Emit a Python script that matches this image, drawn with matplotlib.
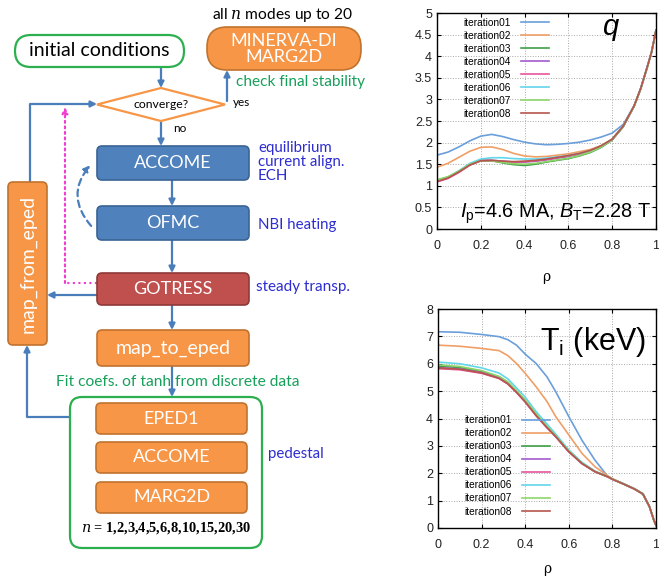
import matplotlib

matplotlib.use("Agg")
import matplotlib.pyplot as plt
import numpy as np
from matplotlib.patches import FancyBboxPatch, Polygon, FancyArrowPatch

plt.rcParams["font.family"] = ["Liberation Sans", "DejaVu Sans"]
plt.rcParams["mathtext.fontset"] = "custom"
plt.rcParams["mathtext.rm"] = "Liberation Sans"
plt.rcParams["mathtext.it"] = "Liberation Sans:italic"

# ---- data ----
iterations = ["iteration01", "iteration02", "iteration03", "iteration04",
              "iteration05", "iteration06", "iteration07", "iteration08"]
iter_colors = ["#6a9fdc", "#ef9f66", "#3f9e4a", "#a35bd0",
               "#e8559c", "#62d6ea", "#8fd46a", "#b5564c"]

rho_q = [0.0, 0.05, 0.1, 0.15, 0.2, 0.25, 0.3, 0.35, 0.4, 0.45, 0.5, 0.55,
         0.6, 0.65, 0.7, 0.75, 0.8, 0.85, 0.9, 0.93, 0.96, 0.98, 1.0]
q_profiles = [
    [1.71, 1.78, 1.90, 2.04, 2.15, 2.19, 2.14, 2.07, 2.01, 1.97, 1.95, 1.96,
     1.98, 2.01, 2.06, 2.13, 2.22, 2.42, 2.85, 3.25, 3.75, 4.10, 4.60],
    [1.43, 1.52, 1.66, 1.80, 1.89, 1.90, 1.84, 1.75, 1.69, 1.67, 1.68, 1.71,
     1.74, 1.79, 1.84, 1.93, 2.08, 2.38, 2.85, 3.25, 3.75, 4.10, 4.60],
    [1.13, 1.20, 1.33, 1.49, 1.58, 1.58, 1.53, 1.49, 1.47, 1.50, 1.55, 1.59,
     1.63, 1.69, 1.77, 1.89, 2.06, 2.36, 2.84, 3.24, 3.74, 4.10, 4.60],
    [1.11, 1.19, 1.33, 1.49, 1.59, 1.59, 1.57, 1.55, 1.55, 1.57, 1.60, 1.64,
     1.68, 1.73, 1.80, 1.91, 2.07, 2.37, 2.85, 3.25, 3.75, 4.10, 4.60],
    [1.09, 1.17, 1.31, 1.48, 1.58, 1.58, 1.56, 1.55, 1.56, 1.58, 1.61, 1.65,
     1.69, 1.74, 1.81, 1.92, 2.08, 2.38, 2.85, 3.25, 3.75, 4.10, 4.60],
    [1.12, 1.20, 1.35, 1.52, 1.62, 1.65, 1.65, 1.63, 1.62, 1.62, 1.64, 1.67,
     1.70, 1.75, 1.81, 1.92, 2.08, 2.38, 2.85, 3.25, 3.75, 4.10, 4.60],
    [1.14, 1.21, 1.34, 1.50, 1.58, 1.58, 1.54, 1.51, 1.50, 1.52, 1.56, 1.60,
     1.64, 1.70, 1.78, 1.90, 2.07, 2.37, 2.84, 3.24, 3.74, 4.10, 4.60],
    [1.10, 1.18, 1.32, 1.48, 1.58, 1.59, 1.57, 1.56, 1.57, 1.59, 1.62, 1.66,
     1.70, 1.75, 1.82, 1.93, 2.08, 2.38, 2.85, 3.25, 3.75, 4.10, 4.60],
]

rho_ti = [0.0, 0.1, 0.2, 0.28, 0.32, 0.36, 0.4, 0.45, 0.5, 0.54, 0.6, 0.66,
          0.72, 0.78, 0.8, 0.85, 0.9, 0.94, 0.97, 0.99, 1.0]
ti_profiles = [
    [7.17, 7.15, 7.07, 6.99, 6.88, 6.68, 6.35, 6.01, 5.52, 4.98, 4.07, 3.21,
     2.48, 1.87, 1.78, 1.62, 1.44, 1.25, 0.78, 0.29, 0.10],
    [6.68, 6.64, 6.56, 6.48, 6.30, 6.01, 5.65, 5.16, 4.62, 4.07, 3.40, 2.73,
     2.24, 1.90, 1.80, 1.62, 1.44, 1.25, 0.78, 0.29, 0.10],
    [5.92, 5.86, 5.72, 5.52, 5.32, 5.00, 4.65, 4.15, 3.70, 3.36, 2.80, 2.37,
     2.06, 1.87, 1.79, 1.61, 1.43, 1.24, 0.78, 0.29, 0.10],
    [5.86, 5.81, 5.68, 5.48, 5.28, 4.97, 4.62, 4.12, 3.67, 3.34, 2.79, 2.36,
     2.06, 1.87, 1.78, 1.61, 1.43, 1.24, 0.78, 0.29, 0.10],
    [5.82, 5.78, 5.65, 5.46, 5.26, 4.95, 4.60, 4.10, 3.66, 3.33, 2.78, 2.35,
     2.05, 1.86, 1.78, 1.61, 1.43, 1.24, 0.78, 0.29, 0.10],
    [6.06, 6.00, 5.85, 5.66, 5.45, 5.12, 4.78, 4.25, 3.80, 3.43, 2.85, 2.40,
     2.08, 1.88, 1.79, 1.62, 1.44, 1.25, 0.78, 0.29, 0.10],
    [5.96, 5.90, 5.75, 5.54, 5.34, 5.02, 4.67, 4.17, 3.71, 3.37, 2.81, 2.37,
     2.06, 1.87, 1.79, 1.61, 1.43, 1.24, 0.78, 0.29, 0.10],
    [5.85, 5.80, 5.67, 5.47, 5.27, 4.96, 4.61, 4.11, 3.67, 3.34, 2.79, 2.36,
     2.06, 1.87, 1.78, 1.61, 1.43, 1.24, 0.78, 0.29, 0.10],
]

x_ticks = [0, 0.2, 0.4, 0.6, 0.8, 1.0]
x_tick_labels = ["0", "0.2", "0.4", "0.6", "0.8", "1"]
q_ticks = [0, 0.5, 1, 1.5, 2, 2.5, 3, 3.5, 4, 4.5, 5]
ti_ticks = [0, 1, 2, 3, 4, 5, 6, 7, 8]

# ---- colours for the flowchart ----
ORANGE, ORANGE_E = "#f79646", "#c0732f"
BLUE, BLUE_E = "#4f81bd", "#3a6494"
RED, RED_E = "#c0504d", "#8e3a38"
GREEN_E = "#2cb04f"
ARROW = "#4a7ebb"
TXT_BLUE = "#2c2cd2"
TXT_GREEN = "#16a05a"
FLOW_FONT = ["Lato", "DejaVu Sans"]

W, H = 659, 576
fig = plt.figure(figsize=(W / 100, H / 100), dpi=100)

# flowchart drawn in pixel units on a full-figure axes
fx = fig.add_axes([0, 0, 1, 1])
fx.set_xlim(0, W)
fx.set_ylim(H, 0)
fx.axis("off")


def box(x0, y0, x1, y1, fc, ec, r=5, lw=1.2, text=None, size=13, color="white", rot=0):
    p = FancyBboxPatch((x0, y0), x1 - x0, y1 - y0,
                       boxstyle=f"round,pad=0,rounding_size={r}",
                       fc=fc, ec=ec, lw=lw, zorder=2)
    fx.add_patch(p)
    if text:
        fx.text((x0 + x1) / 2, (y0 + y1) / 2, text, ha="center", va="center",
                color=color, fontsize=size, family=FLOW_FONT, rotation=rot,
                linespacing=1.0, zorder=3)


def arrow(path, color=ARROW, ls="-", lw=1.6):
    xs, ys = zip(*path)
    if len(path) > 2:
        fx.plot(xs[:-1], ys[:-1], color=color, lw=lw, ls=ls, zorder=1,
                solid_capstyle="butt")
    fx.annotate("", xy=path[-1], xytext=path[-2],
                arrowprops=dict(arrowstyle="-|>", color=color, lw=lw, ls=ls,
                                shrinkA=0, shrinkB=0, mutation_scale=9),
                zorder=1)


box(15, 35, 184, 67, "white", GREEN_E, r=16, lw=1.6,
    text="initial conditions", size=14, color="black")
box(207, 27, 361, 70, ORANGE, ORANGE_E, r=20, text="MINERVA-DI\nMARG2D", size=13)
fx.add_patch(Polygon([(97, 104.5), (161, 88), (225, 104.5), (161, 121)],
                     closed=True, fc="white", ec=ORANGE, lw=1.6, zorder=2))
fx.text(161, 105, "converge?", ha="center", va="center", fontsize=8.8,
        family=FLOW_FONT, zorder=3)
box(97, 146, 249, 180, BLUE, BLUE_E, text="ACCOME")
box(97, 206, 249, 240, BLUE, BLUE_E, text="OFMC")
box(97, 273, 249, 305, RED, RED_E, text="GOTRESS")
box(97, 330, 249, 366, ORANGE, ORANGE_E, text="map_to_eped", size=14)
box(8, 182, 47, 345, ORANGE, ORANGE_E, text="map_from_eped", size=14, rot=90)
box(70, 397, 262, 548, "white", GREEN_E, r=12, lw=1.6)
box(96, 403, 247, 434, ORANGE, ORANGE_E, text="EPED1")
box(96, 442, 247, 473, ORANGE, ORANGE_E, text="ACCOME")
box(96, 482, 247, 513, ORANGE, ORANGE_E, text="MARG2D")

arrow([(161, 67), (161, 88)])
arrow([(227, 101), (227, 70)])
arrow([(161, 121), (161, 146)])
arrow([(172, 180), (172, 206)])
arrow([(172, 240), (172, 273)])
arrow([(172, 305), (172, 330)])
arrow([(172, 366), (172, 397)])
arrow([(97, 295), (47, 295)])
arrow([(70, 417), (27, 417), (27, 345)])
arrow([(30, 182), (30, 104), (97, 104)])
arrow([(97, 283), (65, 283), (65, 107)], color="#f03cd0", ls=":", lw=1.5)
fx.add_patch(FancyArrowPatch((93, 228), (92, 163), connectionstyle="arc3,rad=-0.45",
                             arrowstyle="-|>", mutation_scale=9, color=ARROW,
                             lw=1.6, ls=(0, (3, 2)), zorder=1))

fx.text(283, 15, r"all $n$ modes up to 20", ha="center", va="center", fontsize=11.2,
        family=FLOW_FONT, math_fontfamily="dejavuserif")
fx.text(236, 82, "check final stability", ha="left", va="center", fontsize=11.1,
        color=TXT_GREEN, family=FLOW_FONT)
fx.text(233, 102, "yes", ha="left", va="center", fontsize=8.5, family=FLOW_FONT)
fx.text(173, 129, "no", ha="left", va="center", fontsize=8.5, family=FLOW_FONT)
fx.text(258, 162, "equilibrium\ncurrent align.\nECH", ha="left", va="center",
        fontsize=10.8, color=TXT_BLUE, family=FLOW_FONT, linespacing=1.02)
fx.text(258, 225, "NBI heating", ha="left", va="center", fontsize=10.8,
        color=TXT_BLUE, family=FLOW_FONT)
fx.text(256, 287, "steady transp.", ha="left", va="center", fontsize=11,
        color=TXT_BLUE, family=FLOW_FONT)
fx.text(178, 382, "Fit coefs. of tanh from discrete data", ha="center", va="center",
        fontsize=11.2, color=TXT_GREEN, family=FLOW_FONT)
fx.text(268, 454, "pedestal", ha="left", va="center", fontsize=10.8,
        color=TXT_BLUE, family=FLOW_FONT)
fx.text(166, 528, r"$n$ = 1,2,3,4,5,6,8,10,15,20,30", ha="center", va="center",
        fontsize=10.4, fontweight="bold", family=["Liberation Serif", "DejaVu Serif"],
        math_fontfamily="dejavuserif")


def profile_axes(rect, ticks, rho, profiles, leg_anchor, xpad):
    ax = fig.add_axes(rect)
    for name, col, vals in zip(iterations, iter_colors, profiles):
        ax.plot(rho, vals, color=col, lw=1.2, label=name)
    ax.set_xlim(0, 1)
    ax.set_ylim(ticks[0], ticks[-1])
    ax.set_xticks(x_ticks, x_tick_labels)
    ax.set_yticks(ticks, [f"{t:g}" for t in ticks])
    ax.grid(True, ls=":", color="#a8a8a8", lw=0.7)
    ax.tick_params(direction="in", length=3, labelsize=9, top=True, right=True,
                   labelcolor="#222222")
    ax.tick_params(axis="x", pad=8)
    for s in ax.spines.values():
        s.set_linewidth(1.0)
    ax.set_xlabel("ρ", fontsize=10, family=["DejaVu Serif"], labelpad=xpad)
    ax.legend(loc="upper left", bbox_to_anchor=leg_anchor, frameon=False,
              markerfirst=False, fontsize=7.3, handlelength=2.8, handletextpad=1.0,
              labelspacing=0.3, borderaxespad=0, borderpad=0)
    return ax


ax_q = profile_axes([437 / W, 1 - 229 / H, 219 / W, 216 / H], q_ticks, rho_q,
                    q_profiles, (0.12, 0.978), 13)
ax_q.text(0.79, 0.935, "q", transform=ax_q.transAxes, ha="center", va="center",
          fontsize=21, style="italic")
ax_q.text(0.541, 0.054, r"$I_{\rm p}$=4.6 MA, $B_{\rm T}$=2.28 T",
          transform=ax_q.transAxes, ha="center", va="baseline", fontsize=14.3)

ax_t = profile_axes([438 / W, 1 - 528 / H, 218 / W, 219 / H], ti_ticks, rho_ti,
                    ti_profiles, (0.12, 0.515), 7.5)
ax_t.text(0.955, 0.813, r"T$_{\rm i}$ (keV)", transform=ax_t.transAxes,
          ha="right", va="baseline", fontsize=22)

fig.savefig("out.png", dpi=100)
